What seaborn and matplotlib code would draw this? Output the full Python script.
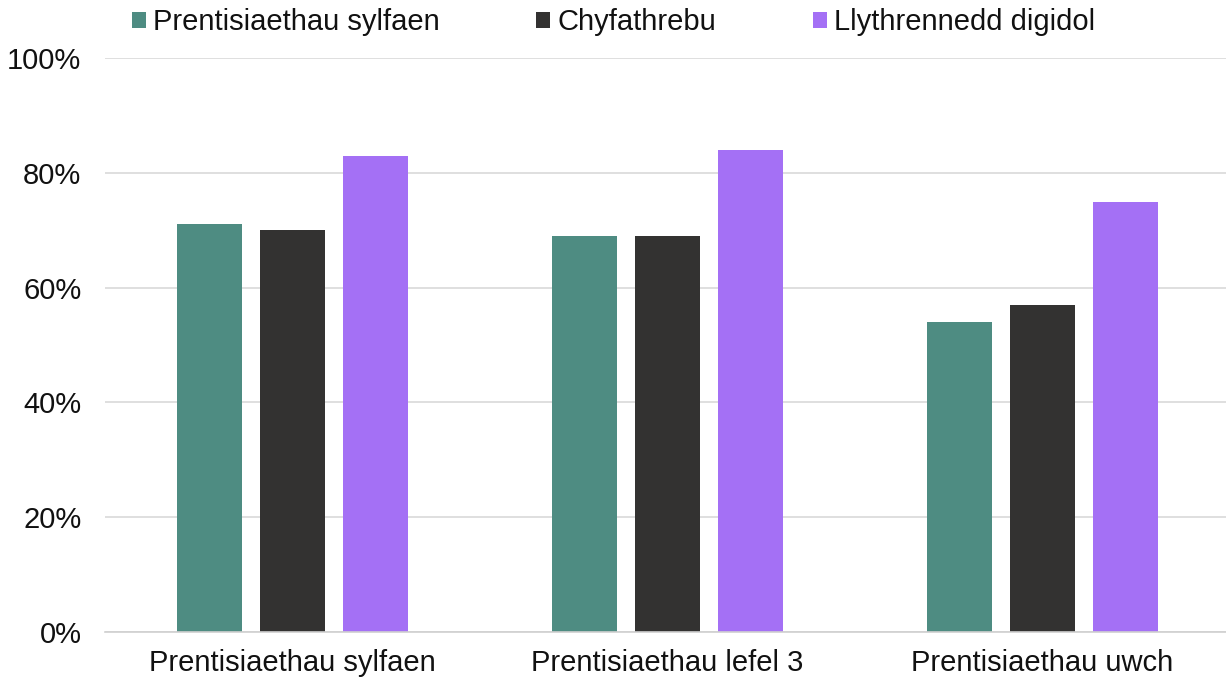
import pandas as pd
import matplotlib
matplotlib.use("Agg")
import matplotlib.pyplot as plt
import seaborn as sns

# Chart data
categories = ["Prentisiaethau sylfaen", "Prentisiaethau lefel 3", "Prentisiaethau uwch"]
series = ["Prentisiaethau sylfaen", "Chyfathrebu", "Llythrennedd digidol"]
values_sylfaen = [71, 69, 54]
values_chyfathrebu = [70, 69, 57]
values_digidol = [83, 84, 75]
colors = ["#4E8C82", "#333231", "#A470F5"]

df = pd.DataFrame({
    "category": categories * 3,
    "series": [series[0]] * 3 + [series[1]] * 3 + [series[2]] * 3,
    "value": values_sylfaen + values_chyfathrebu + values_digidol,
})

sns.set_theme(style="white")
plt.rcParams['font.family'] = ['Liberation Sans', 'DejaVu Sans']

fig = plt.figure(figsize=(12.26, 6.81), dpi=100)
ax = fig.add_axes([105 / 1226, 1 - 632 / 681, 1125 / 1226, 574 / 681])

sns.barplot(data=df, x="category", y="value", hue="series", order=categories,
            hue_order=series, palette=colors, width=0.664, gap=0.22,
            saturation=1, linewidth=0, ax=ax)

ax.set_xlim(-0.5, 2.5)
ax.set_ylim(0, 100)
ax.set_yticks([0, 20, 40, 60, 80, 100])
ax.set_yticklabels([f"{v}%" for v in [0, 20, 40, 60, 80, 100]])
ax.yaxis.grid(True, color="#D9D9D9", linewidth=1.2)
ax.set_axisbelow(True)
ax.set_xlabel("")
ax.set_ylabel("")

for side in ["top", "right", "left"]:
    ax.spines[side].set_visible(False)
ax.spines["bottom"].set_color("#D0D0D0")
ax.spines["bottom"].set_linewidth(1.2)

text_color = "#111111"
ax.tick_params(axis="y", length=0, pad=17, labelsize=21, labelcolor=text_color)
ax.tick_params(axis="x", which="major", length=0, pad=12, labelsize=21, labelcolor=text_color)
ax.set_xticks([-0.5, 0.5, 1.5, 2.5], minor=True)
ax.tick_params(axis="x", which="minor", length=7, width=1.2, color="#D0D0D0", direction="out")

handles, labels = ax.get_legend_handles_labels()
ax.legend(handles, labels, loc="center left", ncol=3, frameon=False,
          bbox_to_anchor=(132 / 1226, 1 - 22 / 681), bbox_transform=fig.transFigure,
          fontsize=21, handlelength=0.48, handleheight=0.48, handletextpad=0.25,
          columnspacing=3.3, borderpad=0, borderaxespad=0, labelcolor=text_color)

plt.savefig("out.png", dpi=100)
